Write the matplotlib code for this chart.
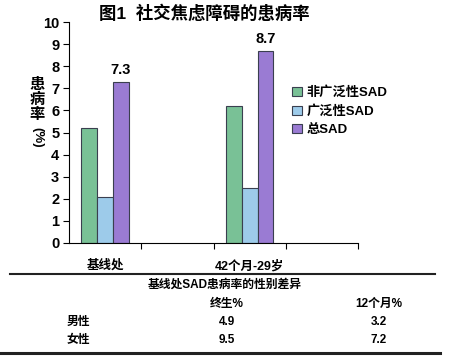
import matplotlib.pyplot as plt
from matplotlib.lines import Line2D
import numpy as np

plt.rcParams['font.family'] = ['Liberation Sans', 'Noto Sans CJK SC', 'DejaVu Sans']
plt.rcParams['font.weight'] = 'bold'

# data
groups = ['基线处', '', '42个月-29岁', '']
series = ['非广泛性SAD', '广泛性SAD', '总SAD']
non_gad = [5.2, 0, 6.2, 0]
gad = [2.1, 0, 2.5, 0]
total = [7.3, 0, 8.7, 0]
colors = ['#79c196', '#9dcbea', '#9a7bd3']

tbl_title = '基线处SAD患病率的性别差异'
tbl_header = ['终生%', '12个月%']
tbl_rows = ['男性', '女性']
tbl_life = ['4.9', '9.5']
tbl_12m = ['3.2', '7.2']

W, H = 467, 359
fig = plt.figure(figsize=(W / 100, H / 100), dpi=100)
ax = fig.add_axes([69 / W, 1 - 243 / H, (358 - 69) / W, (243 - 22) / H])

x = np.arange(len(groups))
bw = 0.22
vals = [non_gad, gad, total]
for i, v in enumerate(vals):
    idx = [0, 2]
    ax.bar(x[idx] + (i - 1) * bw, np.array(v)[idx], bw, color=colors[i],
           edgecolor='#3a3f4f', linewidth=0.8, label=series[i])

for k in [0, 2]:
    ax.text(x[k] + bw, total[k] + 0.2, f'{total[k]}', ha='center', va='bottom',
            fontsize=10.5, fontweight='bold')

ax.set_xlim(-0.5, 3.5)
ax.set_ylim(0, 10)
ax.set_yticks(range(0, 11))
ax.set_yticklabels([str(i) for i in range(11)], fontsize=10.5, fontweight='bold')
ax.set_xticks([0.5, 1.5, 2.5, 3.5])
ax.set_xticklabels([])
ax.tick_params(axis='x', length=4, width=0.8, direction='out')
ax.tick_params(axis='y', length=4, width=0.8, direction='out', pad=3)
for k in [0, 2]:
    ax.text(x[k], -0.75, groups[k], ha='center', va='top', fontsize=9,
            fontweight='bold', transform=ax.transData)
ax.spines['top'].set_visible(False)
ax.spines['right'].set_visible(False)

fig.text(204 / W, 1 - 13 / H, '图1  社交焦虑障碍的患病率', ha='center', va='center',
         fontsize=12.5, fontweight='bold')
fig.text(37 / W, 1 - 100 / H, '患\n病\n率', ha='center', va='center',
         fontsize=11, fontweight='bold', linespacing=1.05)
fig.text(37 / W, 1 - 137 / H, '(%)', ha='center', va='center', rotation=270,
         fontsize=9.5, fontweight='bold')

leg = ax.legend(loc='upper left', bbox_to_anchor=(287 / W, 1 - 81 / H),
                bbox_transform=fig.transFigure, frameon=False, fontsize=9.5,
                handlelength=0.7, handleheight=0.7, handletextpad=0.4,
                labelspacing=0.45, borderaxespad=0)
for t in leg.get_texts():
    t.set_fontweight('bold')

# table under the chart
fig.add_artist(Line2D([10 / W, 435 / W], [1 - 274 / H] * 2, color='#222222', lw=1.5))
fig.add_artist(Line2D([0 / W, 440 / W], [1 - 353 / H] * 2, color='#222222', lw=2.2))
fig.text(225 / W, 1 - 285 / H, tbl_title, ha='center', va='center', fontsize=8.5,
         fontweight='bold')
fig.text(227 / W, 1 - 304 / H, tbl_header[0], ha='center', va='center', fontsize=8.5,
         fontweight='bold')
fig.text(379 / W, 1 - 304 / H, tbl_header[1], ha='center', va='center', fontsize=8.5,
         fontweight='bold')
for r, yy in zip(range(2), [322, 340]):
    fig.text(78 / W, 1 - yy / H, tbl_rows[r], ha='center', va='center', fontsize=8.5,
             fontweight='bold')
    fig.text(227 / W, 1 - yy / H, tbl_life[r], ha='center', va='center', fontsize=8.5,
             fontweight='bold')
    fig.text(379 / W, 1 - yy / H, tbl_12m[r], ha='center', va='center', fontsize=8.5,
             fontweight='bold')

fig.savefig('out.png', dpi=100)
